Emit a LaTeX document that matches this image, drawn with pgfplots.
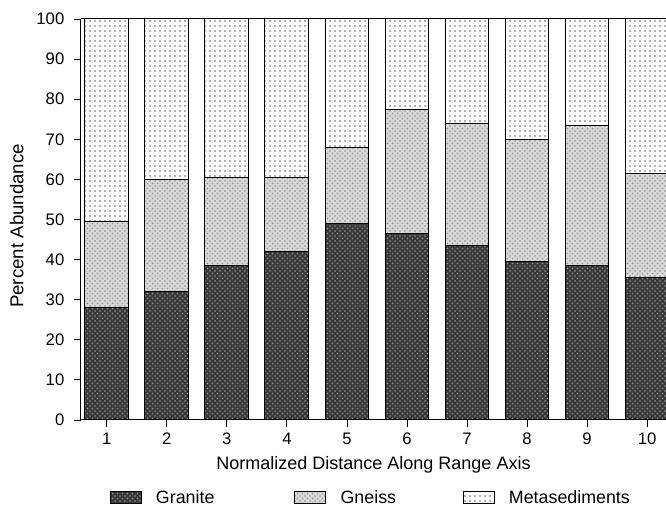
\documentclass[border=0pt]{standalone}
\usepackage{fontspec}
\setmainfont{Liberation Sans}
\usepackage{pgfplots}
\pgfplotsset{compat=1.18}
\usetikzlibrary{patterns}
\begin{document}
\fontsize{10}{12}\selectfont
\begin{tikzpicture}
\begin{axis}[
  name=ax,
  scale only axis, width=351pt, height=240.6pt,
  ybar stacked, bar width=0.73,
  xmin=0.57, xmax=10.315, ymin=0, ymax=100,
  xtick={1,...,10}, ytick={0,10,...,100},
  axis x line=box, axis y line=left,
  y axis line style={-},
  xtick pos=bottom, ytick pos=left,
  tick align=outside, major tick length=4pt,
  axis line style={line width=0.6pt},
  tick style={line width=0.5pt, black},
  yticklabel style={xshift=-2.5pt},
  /pgf/number format/assume math mode=true,
  xlabel={Normalized Distance Along Range Axis},
  ylabel={Percent Abundance},
  xlabel style={at={(axis description cs:0.5,-0.1122)}, anchor=center, font=\fontsize{10.8}{13}\selectfont},
  ylabel style={at={(axis description cs:-0.110,0.484)}, anchor=center, font=\fontsize{11.2}{13}\selectfont},
  legend style={at={(axis description cs:0.4966,-0.1945)}, anchor=center, draw=none, legend columns=3,
    /tikz/column 1/.style={column sep=6.5pt},
    /tikz/column 2/.style={column sep=46pt},
    /tikz/column 3/.style={column sep=6.5pt},
    /tikz/column 4/.style={column sep=38pt},
    /tikz/column 5/.style={column sep=6.5pt},
    font=\fontsize{10.7}{12}\selectfont},
  legend image code/.code={\draw[#1] (0pt,-3.6pt) rectangle (18.6pt,3.6pt);},
  every axis plot/.append style={draw=black, line width=0.6pt},
]
\addplot[fill=black!78, postaction={pattern=crosshatch dots, pattern color=black!40}] coordinates {
 (1,28) (2,32) (3,38.5) (4,42) (5,49) (6,46.5) (7,43.5) (8,39.5) (9,38.5) (10,35.5)};
\addplot[fill=black!15, postaction={pattern=crosshatch dots, pattern color=black!45}] coordinates {
 (1,21.5) (2,28) (3,22) (4,18.5) (5,19) (6,31) (7,30.5) (8,30.5) (9,35) (10,26)};
\addplot[fill=white, postaction={pattern=dots, pattern color=black!60}] coordinates {
 (1,50.5) (2,40) (3,39.5) (4,39.5) (5,32) (6,22.5) (7,26) (8,30) (9,26.5) (10,38.5)};
\legend{Granite, Gneiss, Metasediments}
\end{axis}
\pgfresetboundingbox
\path (ax.south west) ++(-48.6pt,-51.6pt);
\path (ax.north east) ++(0pt,11.4pt);
\end{tikzpicture}
\end{document}
